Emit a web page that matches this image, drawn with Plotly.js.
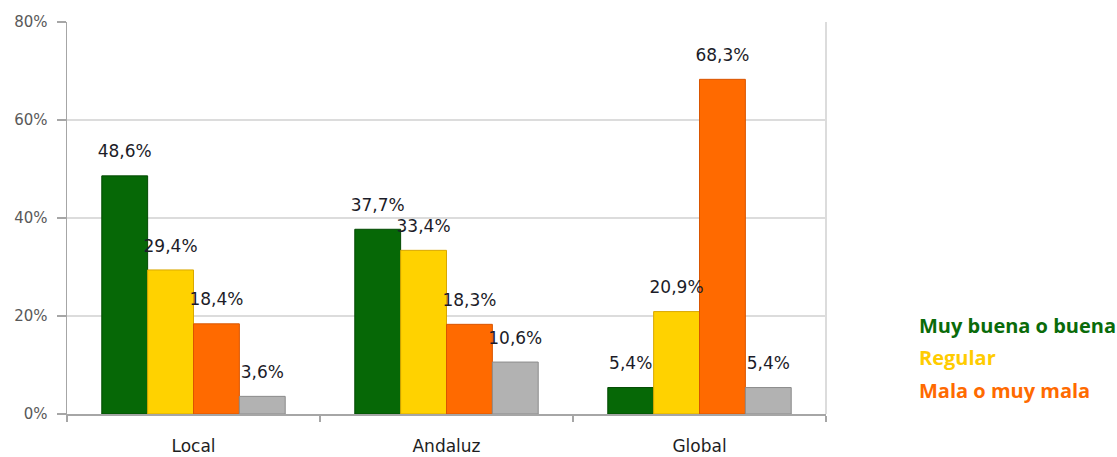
<!DOCTYPE html>
<html>
<head>
<meta charset="utf-8">
<script src="https://cdn.plot.ly/plotly-3.0.1.min.js"></script>
<style>html,body{margin:0;padding:0;background:#fff;}#chart{width:1117px;height:457px;}</style>
</head>
<body>
<div id="chart"></div>
<script>
const categories = ["Local", "Andaluz", "Global"];
const seriesNames = ["Muy buena o buena", "Regular", "Mala o muy mala", "NS/NC"];
const muyBuena = [48.6, 37.7, 5.4];
const regular = [29.4, 33.4, 20.9];
const mala = [18.4, 18.3, 68.3];
const nsnc = [3.6, 10.6, 5.4];
const yTickVals = [0, 20, 40, 60, 80];
const yTickText = ["0%", "20%", "40%", "60%", "80%"];

const seriesValues = [muyBuena, regular, mala, nsnc];
const fills = ["#066806", "#ffd200", "#ff6a00", "#b2b2b2"];
const edges = ["#034a03", "#d9a800", "#d95500", "#8c8c8c"];
const legendColors = ["#0a6b0a", "#ffcc00", "#ff6a00"];

const barTraces = seriesValues.map((vals, i) => ({
  type: "bar",
  name: seriesNames[i],
  x: categories,
  y: vals,
  marker: {color: fills[i], line: {color: edges[i], width: 1}},
  hoverinfo: "skip",
  showlegend: false
}));

const labelTraces = seriesValues.map((vals, i) => ({
  type: "scatter",
  mode: "markers+text",
  name: seriesNames[i] + " (etiqueta)",
  x: categories,
  y: vals,
  marker: {size: 21, opacity: 0, color: fills[i]},
  texttemplate: "%{y:.1f}%",
  textposition: "top center",
  cliponaxis: false,
  textfont: {family: "DejaVu Sans", size: 17, color: "#1c1c28"},
  hoverinfo: "skip",
  showlegend: false
}));

const annotations = seriesNames.slice(0, 3).map((n, i) => ({
  text: "<b>" + n + "</b>",
  xref: "paper", yref: "paper",
  x: 1.12, y: [0.2245, 0.143, 0.061][i],
  xanchor: "left", yanchor: "middle",
  showarrow: false,
  font: {family: "Open Sans", size: 20, color: legendColors[i]}
}));

const layout = {
  width: 1117, height: 457,
  margin: {l: 67, r: 291, t: 22, b: 43},
  paper_bgcolor: "#ffffff", plot_bgcolor: "#ffffff",
  separators: ",.",
  barmode: "group",
  bargap: 0.275,
  bargroupgap: 0,
  scattermode: "group",
  scattergap: 0.275,
  showlegend: false,
  xaxis: {
    type: "category",
    showline: true, linecolor: "#a6a6a6", linewidth: 1.5,
    ticks: "outside", tickson: "boundaries", ticklen: 6, tickcolor: "#a6a6a6", tickwidth: 1.5,
    ticklabelstandoff: 16,
    tickfont: {family: "DejaVu Sans", size: 17, color: "#1e1e1e"},
    showgrid: false, zeroline: false, fixedrange: true
  },
  yaxis: {
    range: [0, 80],
    tickvals: yTickVals, ticktext: yTickText,
    showline: true, linecolor: "#a6a6a6", linewidth: 1.5,
    ticks: "outside", ticklen: 9, tickcolor: "#a6a6a6", tickwidth: 1.5,
    ticklabelstandoff: 6,
    tickfont: {family: "DejaVu Sans", size: 15, color: "#595959"},
    showgrid: true, gridcolor: "#dcdcdc", gridwidth: 1.5,
    zeroline: false, fixedrange: true
  },
  shapes: [{type: "line", xref: "paper", yref: "paper", x0: 1, x1: 1, y0: 0, y1: 1,
            line: {color: "#dcdcdc", width: 2}}],
  annotations: annotations
};

Plotly.newPlot("chart", barTraces.concat(labelTraces), layout, {displayModeBar: false, staticPlot: true});
</script>
</body>
</html>
